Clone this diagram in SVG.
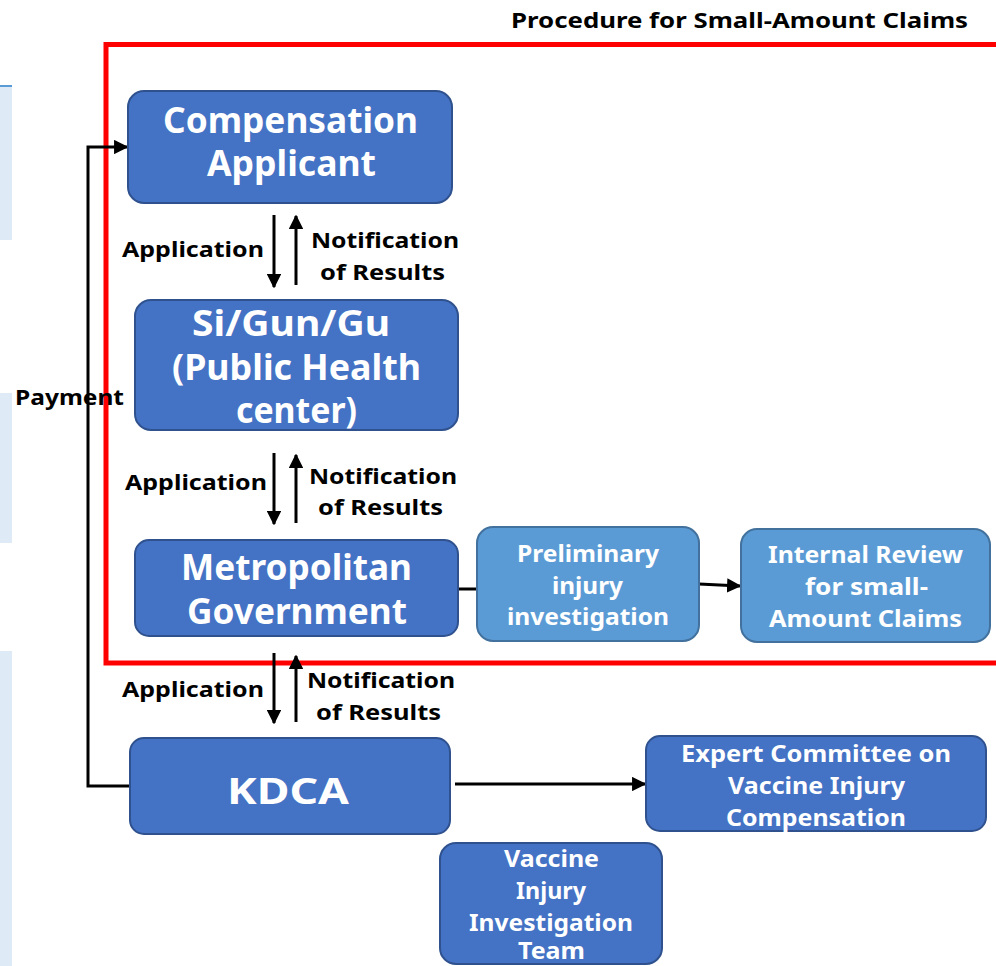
<svg xmlns="http://www.w3.org/2000/svg" width="996" height="966" viewBox="0 0 996 966">
<style>
text{font-family:"Noto Sans","Liberation Sans",sans-serif;font-weight:bold;}
.lbl{fill:#000;font-size:22px;}
.big{fill:#fff;font-size:35px;text-anchor:middle;}
.med{fill:#fff;font-size:24px;text-anchor:middle;}
.dark{fill:#4472c4;stroke:#2f528f;stroke-width:2;}
.light{fill:#5b9bd5;stroke:#41719c;stroke-width:2;}
.ln{stroke:#000;stroke-width:3;fill:none;}
.panel{fill:#deebf7;}
</style>
<defs>
<marker id="ah" viewBox="0 0 10 10" refX="9" refY="5" markerWidth="4.8" markerHeight="4.8" orient="auto"><path d="M0,0L10,5L0,10z" fill="#000"/></marker>
</defs>
<g id="panels">
<rect class="panel" x="0" y="86" width="12" height="154"/>
<rect x="0" y="85" width="12" height="2" fill="#5b9bd5"/>
<rect class="panel" x="0" y="393" width="12" height="150"/>
<rect class="panel" x="0" y="651" width="12" height="315"/>
</g>
<g id="frame">
<rect x="106" y="44.5" width="900" height="618.5" fill="none" stroke="#ff0000" stroke-width="5"/>
<text x="511" y="28" class="lbl" textLength="457" lengthAdjust="spacingAndGlyphs">Procedure for Small-Amount Claims</text>
</g>
<g id="connectors">
<polyline class="ln" points="130,786 88,786 88,147 127,147" marker-end="url(#ah)"/>
<line class="ln" x1="274" y1="215" x2="274" y2="287" marker-end="url(#ah)"/>
<line class="ln" x1="296" y1="285" x2="296" y2="216" marker-end="url(#ah)"/>
<line class="ln" x1="274" y1="453" x2="274" y2="524" marker-end="url(#ah)"/>
<line class="ln" x1="296" y1="523" x2="296" y2="455" marker-end="url(#ah)"/>
<line class="ln" x1="274" y1="653" x2="274" y2="723" marker-end="url(#ah)"/>
<line class="ln" x1="296" y1="722" x2="296" y2="656" marker-end="url(#ah)"/>
<line class="ln" x1="458" y1="589" x2="478" y2="589"/>
<line class="ln" x1="699" y1="584" x2="740" y2="586" marker-end="url(#ah)"/>
<line class="ln" x1="455" y1="784" x2="645" y2="784" marker-end="url(#ah)"/>
<text x="15" y="405" class="lbl" textLength="109" lengthAdjust="spacingAndGlyphs">Payment</text>
<text x="122" y="257" class="lbl" textLength="142" lengthAdjust="spacingAndGlyphs">Application</text>
<text x="311" y="248" class="lbl" textLength="148" lengthAdjust="spacingAndGlyphs">Notification</text>
<text x="320" y="280" class="lbl" textLength="125" lengthAdjust="spacingAndGlyphs">of Results</text>
<text x="125" y="490" class="lbl" textLength="142" lengthAdjust="spacingAndGlyphs">Application</text>
<text x="309" y="484" class="lbl" textLength="148" lengthAdjust="spacingAndGlyphs">Notification</text>
<text x="318" y="515" class="lbl" textLength="125" lengthAdjust="spacingAndGlyphs">of Results</text>
<text x="122" y="697" class="lbl" textLength="142" lengthAdjust="spacingAndGlyphs">Application</text>
<text x="307" y="688" class="lbl" textLength="148" lengthAdjust="spacingAndGlyphs">Notification</text>
<text x="316" y="720" class="lbl" textLength="125" lengthAdjust="spacingAndGlyphs">of Results</text>
</g>
<g id="applicant">
<rect class="dark" x="128" y="91" width="324" height="112" rx="16"/>
<text class="big" x="290.5" y="133" textLength="255" lengthAdjust="spacingAndGlyphs">Compensation</text>
<text class="big" x="291.5" y="176" textLength="169" lengthAdjust="spacingAndGlyphs">Applicant</text>
</g>
<g id="sigungu">
<rect class="dark" x="135" y="300" width="323" height="130" rx="16"/>
<text class="big" x="291" y="336" textLength="198" lengthAdjust="spacingAndGlyphs">Si/Gun/Gu</text>
<text class="big" x="296.5" y="380" textLength="249" lengthAdjust="spacingAndGlyphs">(Public Health</text>
<text class="big" x="296.5" y="423" textLength="121" lengthAdjust="spacingAndGlyphs">center)</text>
</g>
<g id="metro">
<rect class="dark" x="135" y="540" width="323" height="96" rx="14"/>
<text class="big" x="296.5" y="580" textLength="231" lengthAdjust="spacingAndGlyphs">Metropolitan</text>
<text class="big" x="297" y="624" textLength="220" lengthAdjust="spacingAndGlyphs">Government</text>
</g>
<g id="preliminary">
<rect class="light" x="477" y="527" width="222" height="114" rx="16"/>
<text class="med" x="588" y="562" textLength="142" lengthAdjust="spacingAndGlyphs">Preliminary</text>
<text class="med" x="587.5" y="594" textLength="71" lengthAdjust="spacingAndGlyphs">injury</text>
<text class="med" x="588" y="625" textLength="162" lengthAdjust="spacingAndGlyphs">investigation</text>
</g>
<g id="internal">
<rect class="light" x="741" y="529" width="249" height="113" rx="16"/>
<text class="med" x="865.5" y="563" textLength="195" lengthAdjust="spacingAndGlyphs">Internal Review</text>
<text class="med" x="866.5" y="595" textLength="123" lengthAdjust="spacingAndGlyphs">for small-</text>
<text class="med" x="865.5" y="627" textLength="193" lengthAdjust="spacingAndGlyphs">Amount Claims</text>
</g>
<g id="kdca">
<rect class="dark" x="130" y="738" width="320" height="96" rx="14"/>
<text class="big" x="288" y="804" font-size="46" textLength="122" lengthAdjust="spacingAndGlyphs">KDCA</text>
</g>
<g id="expert">
<rect class="dark" x="646" y="736" width="340" height="95" rx="14"/>
<text class="med" x="816" y="762" textLength="270" lengthAdjust="spacingAndGlyphs">Expert Committee on</text>
<text class="med" x="816.5" y="794" textLength="177" lengthAdjust="spacingAndGlyphs">Vaccine Injury</text>
<text class="med" x="816" y="826" textLength="180" lengthAdjust="spacingAndGlyphs">Compensation</text>
</g>
<g id="team">
<rect class="dark" x="440" y="843" width="222" height="121" rx="16"/>
<text class="med" x="551.5" y="867" textLength="95" lengthAdjust="spacingAndGlyphs">Vaccine</text>
<text class="med" x="551" y="899" textLength="70" lengthAdjust="spacingAndGlyphs">Injury</text>
<text class="med" x="551" y="931" textLength="164" lengthAdjust="spacingAndGlyphs">Investigation</text>
<text class="med" x="551.5" y="959" textLength="67" lengthAdjust="spacingAndGlyphs">Team</text>
</g>
</svg>
